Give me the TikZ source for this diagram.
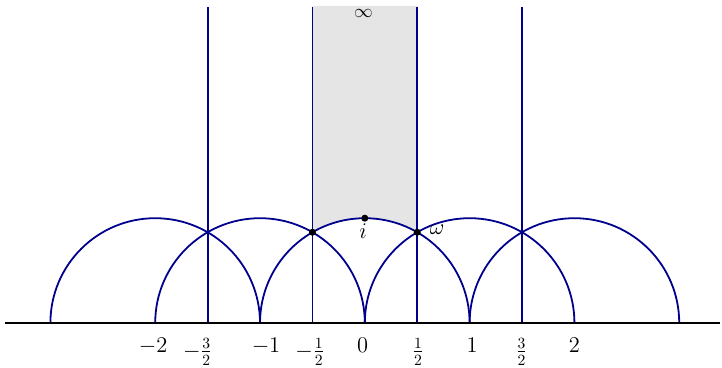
\documentclass[tikz,border=0pt]{standalone}
\begin{document}
\begin{tikzpicture}[x=2.36cm,y=2.36cm,
  font=\Large,
  geo/.style={draw=blue!55!black,line width=1.15pt},
  axisline/.style={draw=black,line width=1.15pt},
  tick/.style={anchor=north,inner sep=0pt},
  pt/.style={circle,fill=black,inner sep=0pt,minimum size=4.5pt}]
\useasboundingbox (-3.481,-0.429) rectangle (3.408,3.082);
\fill[black!10] (-0.5,3.025) -- (-0.5,0.866) arc (120:60:1) -- (0.5,3.025) -- cycle;
\foreach \c in {-2,-1,0,1,2} {
  \draw[geo] (\c+1,0) arc (0:180:1);
}
\foreach \x in {-1.5,-0.5,0.5,1.5} {
  \draw[geo] (\x,0) -- (\x,3.015);
}
\coordinate (L) at (-3.433,0);
\coordinate (R) at (3.39,0);
\draw[axisline] (L) -- (R);
\node[tick] at (-2.02,-0.144) {$-2$};
\node[tick] at (-1.596,-0.144) {$-\frac{3}{2}$};
\node[tick] at (-0.943,-0.144) {$-1$};
\node[tick] at (-0.523,-0.144) {$-\frac{1}{2}$};
\node[tick] at (-0.02,-0.144) {$0$};
\node[tick] at (0.508,-0.144) {$\frac{1}{2}$};
\node[tick] at (1.023,-0.144) {$1$};
\node[tick] at (1.495,-0.144) {$\frac{3}{2}$};
\node[tick] at (2.0,-0.144) {$2$};
\node[pt] (I) at (0,1) {};
\node[pt] (W) at (0.5,0.866) {};
\node[pt] (Wm) at (-0.5,0.866) {};
\node (il) at (-0.015,0.878) {$i$};
\node (wl) at (0.69,0.888) {$\omega$};
\node[font=\large] (inf) at (-0.012,2.958) {$\infty$};
\end{tikzpicture}
\end{document}
